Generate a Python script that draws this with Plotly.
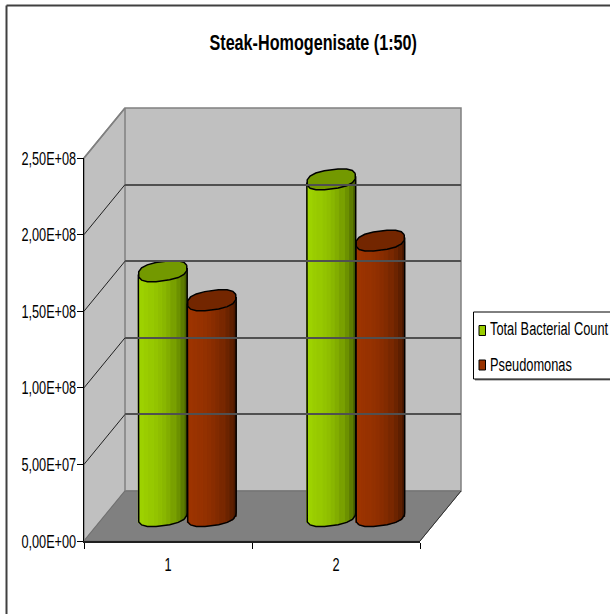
import math
import plotly.graph_objects as go

# ---- data ----
title_text = "Steak-Homogenisate (1:50)"
categories = [1, 2]
series_names = ["Total Bacterial Count", "Pseudomonas"]
total_bacterial_count = [1.60e8, 2.20e8]
pseudomonas = [1.41e8, 1.80e8]
y_ticks = [0, 5e7, 1e8, 1.5e8, 2e8, 2.5e8]
y_tick_labels = ["0,00E+00", "5,00E+07", "1,00E+08", "1,50E+08", "2,00E+08", "2,50E+08"]

# ---- style / geometry (pixels of the 610x614 page) ----
W, H = 610, 614
FONT = "Liberation Sans, Arial"
FX0, FX1, FY0, FY1 = 84, 420, 541, 158      # front axes box
BX0, BX1, BY0, BY1 = 125, 461, 491, 108     # back wall
COLORS = [(153, 204, 0), (153, 51, 0)]
TOPS = ["#739900", "#732600"]
PX0, PX1 = 103, 440.0                       # category range 0.5..2.5 of the bar axes
CYL_Y0 = 516                                # pixel of value 0 at the bar depth
PY_PER = 382.5 / 2.5e8                      # px per unit
PAD = 22                                    # extra px below zero on the bar axes
HALF_W, B, S = 24.4, 9.7, 3.2               # cylinder ellipse, px
P = 0.78                                    # super-ellipse blunting of the cylinder outline
OFFS = [-24.5, 24.5]                        # series offset from category centre, px
N_STRIPS = 24
X_PER = (PX1 - PX0) / 2.0                   # px per category


def px(x):
    return x / W


def py(y):
    return 1 - y / H


def shade(rgb, u):
    # horizontal light profile of the cylinder in flat bands, u in [-1, 1]
    q = round((u + 1) * 5.5) / 5.5
    f = 1.05 - 0.11 * q - 0.022 * q ** 4
    return "rgb(%d,%d,%d)" % tuple(min(255, int(c * f)) for c in rgb)


def to_val(p):
    return p / PY_PER


def spow(a):
    return math.copysign(abs(a) ** P, a)


def rim_x(t):
    return HALF_W * spow(math.cos(t))


def rim_y(t):
    return B * spow(math.sin(t)) + S * spow(math.cos(t))


fig = go.Figure()

# front axes (ticks and labels)
fig.add_trace(go.Scatter(x=[], y=[], xaxis="x", yaxis="y", showlegend=False))
# back wall axes (grid lines)
fig.add_trace(go.Scatter(x=[], y=[], xaxis="x3", yaxis="y3", showlegend=False))

values = [total_bacterial_count, pseudomonas]
for s, name in enumerate(series_names):
    xs, ys, bases, cols = [], [], [], []
    for c, v in zip(categories, values[s]):
        for i in range(N_STRIPS):
            u = -1 + (2 * i + 1) / N_STRIPS
            xc = c + (OFFS[s] + HALF_W * u) / X_PER
            xs.append(xc)
            ys.append(v)
            low = (1 - abs(u) ** (2 / P)) ** (P / 2)
            bases.append(to_val(-B * low + S * u))
            cols.append(shade(COLORS[s], u))
    fig.add_trace(go.Bar(
        x=xs, y=ys, base=bases, width=2 * HALF_W / N_STRIPS / X_PER * 1.5,
        marker=dict(color=cols, line=dict(width=0)), name=name, showlegend=False,
        xaxis="x2", yaxis="y2", hoverinfo="skip",
    ))

ts = [2 * math.pi * k / 16 + 0.2 for k in range(17)]
for s, name in enumerate(series_names):
    for c, v in zip(categories, values[s]):
        cx = c + OFFS[s] / X_PER
        # silhouette: left edge, lower curve of the base, right edge
        lower = sorted([t for t in ts[:-1] if math.sin(t) < 0], key=lambda t: math.cos(t))
        lx = [cx - HALF_W / X_PER, cx - HALF_W / X_PER,
              *[cx + rim_x(t) / X_PER for t in lower],
              cx + HALF_W / X_PER, cx + HALF_W / X_PER]
        ly = [v + to_val(-S), to_val(-S),
              *[to_val(rim_y(t)) for t in lower],
              to_val(S), v + to_val(S)]
        fig.add_trace(go.Scatter(x=lx, y=ly, mode="lines", line=dict(color="black", width=1.5),
                                 xaxis="x2", yaxis="y2", showlegend=False, hoverinfo="skip"))
        # top face
        fig.add_trace(go.Scatter(
            x=[cx + rim_x(t) / X_PER for t in ts],
            y=[v + to_val(rim_y(t)) for t in ts],
            mode="lines", fill="toself", fillcolor=TOPS[s],
            line=dict(color="black", width=1.5),
            xaxis="x2", yaxis="y2", showlegend=False, hoverinfo="skip",
        ))

shapes = []


def poly(points, fill, line=None, width=1.5):
    d = "M " + " L ".join("%.5f,%.5f" % (px(a), py(b)) for a, b in points) + " Z"
    shapes.append(dict(type="path", xref="paper", yref="paper", path=d, fillcolor=fill,
                       line=dict(color=line or "rgba(0,0,0,0)", width=width if line else 0), layer="below"))


def seg(x0, y0, x1, y1, color, width, layer="below"):
    shapes.append(dict(type="line", xref="paper", yref="paper", x0=px(x0), y0=py(y0), x1=px(x1), y1=py(y1),
                       line=dict(color=color, width=width), layer=layer))


# walls and floor
poly([(FX0, FY1), (BX0, BY1), (BX1, BY1), (BX1, BY0), (BX0, BY0), (FX0, FY0)], "#C0C0C0", "#808080", 1.5)
poly([(FX0, FY0), (FX1, FY0), (BX1, BY0), (BX0, BY0)], "#808080", "#707070", 1)
seg(BX0, BY1, BX0, BY0, "#808080", 1.5)
# side wall grid lines follow the tick values
for v in y_ticks[1:-1]:
    f = v / y_ticks[-1]
    seg(FX0, FY0 + (FY1 - FY0) * f, BX0, BY0 + (BY1 - BY0) * f, "#202020", 1)
seg(FX0, FY1, BX0, BY1, "#808080", 1.5)
seg(BX1, BY0, FX1, FY0, "#303030", 1)
# chart frame
seg(6.5, 5.5, 6.5, H, "#404040", 2)
seg(6.5, 5.5, W, 5.5, "#404040", 2)
# legend box (shadow, box, swatches)
shapes.append(dict(type="rect", xref="paper", yref="paper", x0=px(475), x1=px(W + 5), y0=py(380.5), y1=py(314),
                   fillcolor="#808080", line=dict(width=0), layer="below"))
shapes.append(dict(type="rect", xref="paper", yref="paper", x0=px(473.5), x1=px(W + 5), y0=py(379), y1=py(312),
                   fillcolor="white", line=dict(color="black", width=1), layer="below"))
for i, rgb in enumerate(COLORS):
    y = 330 + i * 34.5
    shapes.append(dict(type="rect", xref="paper", yref="paper", x0=px(479), x1=px(485.5), y0=py(y + 5.5), y1=py(y - 4.5),
                       fillcolor="rgb(%d,%d,%d)" % rgb, line=dict(color="black", width=1), layer="below"))

annotations = [dict(text=title_text, xref="paper", yref="paper", x=px(312.5), y=py(42.5),
                    xanchor="center", yanchor="middle", showarrow=False,
                    font=dict(family=FONT, size=22, color="black", weight="bold"))]
for i, name in enumerate(series_names):
    annotations.append(dict(text=name, xref="paper", yref="paper", x=px(488), y=py(328 + i * 36),
                            xanchor="left", yanchor="middle", showarrow=False, align="left",
                            font=dict(family=FONT, size=19, color="black")))

fig.update_layout(
    width=W, height=H, margin=dict(l=0, r=0, t=0, b=0, autoexpand=False), autosize=False,
    paper_bgcolor="white", plot_bgcolor="rgba(0,0,0,0)", showlegend=False,
    barmode="overlay", shapes=shapes, annotations=annotations,
    font=dict(family=FONT, size=19, color="black"),
    xaxis=dict(domain=[px(FX0), px(FX1)], range=[0.5, 2.5], tickvals=categories, ticktext=[str(c) for c in categories],
               ticks="", showgrid=False, zeroline=False, showline=True, linecolor="#202020", linewidth=2,
               ticklabelstandoff=5, anchor="y", automargin=False,
               minor=dict(tickvals=[0.5, 1.5, 2.5], ticks="outside", ticklen=6, tickcolor="black", tickwidth=1, showgrid=False)),
    yaxis=dict(domain=[py(FY0), py(FY1)], range=[0, 2.5e8], tickvals=y_ticks, ticktext=y_tick_labels,
               ticks="outside", ticklen=6, tickcolor="black", showgrid=False, zeroline=False,
               ticklabelstandoff=-3, showline=True, linecolor="black", linewidth=1, anchor="x", automargin=False),
    xaxis3=dict(domain=[px(BX0), px(BX1)], range=[0, 1], visible=False, anchor="y3", automargin=False),
    yaxis3=dict(domain=[py(BY0), py(BY1)], range=[0, 2.5e8], tickvals=y_ticks, showticklabels=False, ticks="",
                showgrid=True, gridcolor="#505050", gridwidth=1.5, zeroline=False, showline=False, anchor="x3", automargin=False),
    xaxis2=dict(domain=[px(PX0), px(PX1)], range=[0.5, 2.5], visible=False, anchor="y2", automargin=False),
    yaxis2=dict(domain=[py(CYL_Y0 + PAD), py(100)], range=[-PAD / PY_PER, (CYL_Y0 - 100) / PY_PER], visible=False, anchor="x2", automargin=False),
)

# The reference uses condensed lettering; no narrow face is installed, so the real text is condensed in place.
post = """
document.body.style.margin='0';document.body.style.overflow='hidden';
document.querySelectorAll('svg text').forEach(function(t){
  if(!t.textContent) return;
  var s = 0.67;
  if(t.classList.contains('annotation-text')){
    s = t.textContent.indexOf('Steak')===0 ? 0.735 : 0.675;
  }
  var ax = parseFloat(t.getAttribute('x')||'0');
  var old = t.getAttribute('transform')||'';
  t.setAttribute('transform', old+' translate('+ax+',0) scale('+s+',1) translate('+(-ax)+',0)');
});
"""
fig.write_html("out.html", post_script=post, config={"displayModeBar": False})
